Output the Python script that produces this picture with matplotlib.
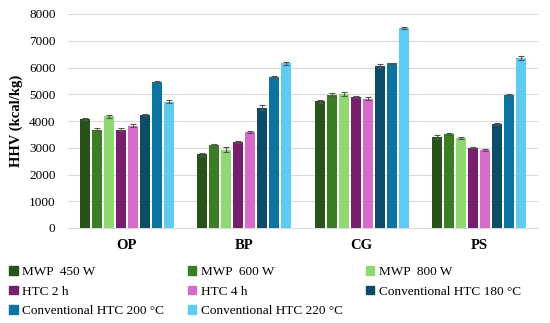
import numpy as np
import matplotlib.pyplot as plt
from matplotlib.patches import Patch

plt.rcParams['font.family'] = ['Liberation Serif', 'DejaVu Serif']

categories = ['OP', 'BP', 'CG', 'PS']
series = ['MWP  450 W', 'MWP  600 W', 'MWP  800 W', 'HTC 2 h', 'HTC 4 h',
          'Conventional HTC 180 °C', 'Conventional HTC 200 °C', 'Conventional HTC 220 °C']
colors = ['#285219', '#3B7D23', '#8FD872', '#761F6C', '#D66BCA',
          '#0B4C68', '#0B74A0', '#5FCAF2']

values = [
    [4080, 2750, 4730, 3400],
    [3680, 3090, 4980, 3500],
    [4170, 2930, 5000, 3370],
    [3680, 3210, 4900, 3000],
    [3830, 3580, 4830, 2920],
    [4230, 4500, 6050, 3900],
    [5470, 5630, 6150, 4960],
    [4720, 6150, 7470, 6350],
]
errors = [
    [40, 70, 40, 60],
    [50, 60, 50, 40],
    [60, 80, 80, 50],
    [40, 30, 50, 20],
    [50, 40, 50, 30],
    [40, 90, 70, 40],
    [40, 50, 30, 40],
    [60, 60, 40, 80],
]

fig = plt.figure(figsize=(5.5, 3.23), dpi=100)
ax = fig.add_axes([68 / 550, 1 - 228 / 323, 470 / 550, 214 / 323])

x = np.arange(len(categories))
pitch = 0.102
width = 0.085
for i, (name, vals, errs, col) in enumerate(zip(series, values, errors, colors)):
    offs = (i - 3.5) * pitch
    ax.bar(x + offs, vals, width, color=col, yerr=errs, zorder=3,
           error_kw=dict(ecolor='#555555', elinewidth=0.8, capsize=2.5, capthick=0.8))

ax.set_xlim(-0.5, 3.5)
ax.set_ylim(0, 8000)
ax.set_yticks(np.arange(0, 8001, 1000))
ax.yaxis.grid(True, color='#d9d9d9', linewidth=0.8, zorder=0)
ax.set_axisbelow(True)
for s in ['top', 'right', 'left']:
    ax.spines[s].set_visible(False)
ax.spines['bottom'].set_color('#d9d9d9')
ax.tick_params(axis='both', length=0)
ax.tick_params(axis='y', pad=9, labelsize=9.5)
ax.set_xticks(x)
ax.set_xticklabels(categories, fontweight='bold', fontsize=10.5)
ax.tick_params(axis='x', pad=8)
ax.set_ylabel('HHV (kcal/kg)', fontweight='bold', fontsize=10.5, labelpad=4)

handles = [Patch(color=c, label=n) for n, c in zip(series, colors)]
order = [0, 3, 6, 1, 4, 7, 2, 5]  # row-major fill for 3 columns
fig.legend(handles=[handles[k] for k in order], ncol=3, loc='upper left',
           bbox_to_anchor=(0.0, 1 - 257 / 323), frameon=False, fontsize=9.5,
           handlelength=0.65, handleheight=0.65, handletextpad=0.35,
           columnspacing=1.75, labelspacing=0.55, borderaxespad=0.3)

fig.savefig('out.png', dpi=100)
